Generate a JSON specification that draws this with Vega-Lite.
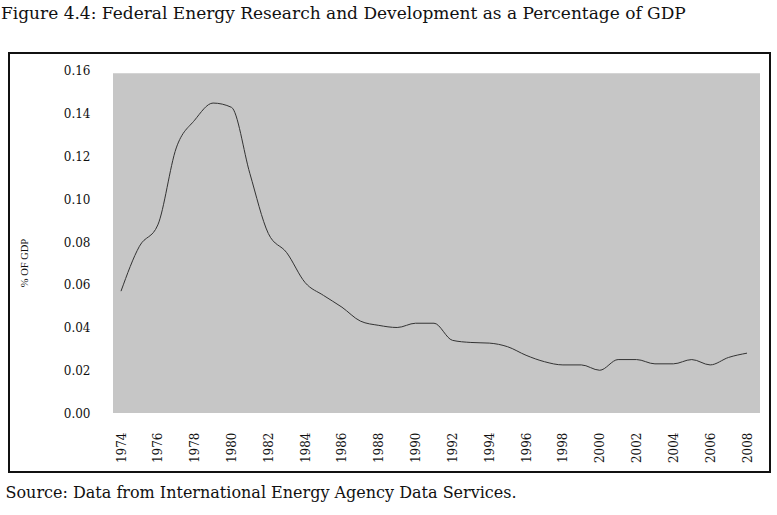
{
  "$schema": "https://vega.github.io/schema/vega-lite/v6.json",
  "width": 761,
  "height": 419,
  "autosize": {"type": "none"},
  "padding": {"left": 9, "top": 53, "right": 7, "bottom": 43},
  "background": "white",
  "title": {
    "text": "Figure 4.4: Federal Energy Research and Development as a Percentage of GDP",
    "anchor": "start",
    "dx": -4,
    "offset": 30,
    "font": "DejaVu Serif",
    "fontSize": 17,
    "fontWeight": "normal",
    "color": "#111"
  },
  "config": {
    "view": {"stroke": "#111", "strokeWidth": 2},
    "axis": {"grid": false, "labelFont": "DejaVu Serif", "titleFont": "DejaVu Serif", "labelColor": "#111", "titleColor": "#111"}
  },
  "datasets": {
    "panel": [{"x0": 1973.565, "x1": 2008.706, "y0": 0, "y1": 0.159}],
    "rd": [
      {"year": 1974, "pct": 0.057},
      {"year": 1975, "pct": 0.078},
      {"year": 1976, "pct": 0.088},
      {"year": 1977, "pct": 0.124},
      {"year": 1978, "pct": 0.137},
      {"year": 1979, "pct": 0.145},
      {"year": 1980, "pct": 0.143},
      {"year": 1981, "pct": 0.112},
      {"year": 1982, "pct": 0.084},
      {"year": 1983, "pct": 0.075},
      {"year": 1984, "pct": 0.061},
      {"year": 1985, "pct": 0.055},
      {"year": 1986, "pct": 0.0495},
      {"year": 1987, "pct": 0.043},
      {"year": 1988, "pct": 0.041},
      {"year": 1989, "pct": 0.040},
      {"year": 1990, "pct": 0.042},
      {"year": 1991, "pct": 0.042},
      {"year": 1992, "pct": 0.034},
      {"year": 1993, "pct": 0.033},
      {"year": 1994, "pct": 0.0327},
      {"year": 1995, "pct": 0.031},
      {"year": 1996, "pct": 0.027},
      {"year": 1997, "pct": 0.024},
      {"year": 1998, "pct": 0.0225},
      {"year": 1999, "pct": 0.0225},
      {"year": 2000, "pct": 0.020},
      {"year": 2001, "pct": 0.025},
      {"year": 2002, "pct": 0.025},
      {"year": 2003, "pct": 0.023},
      {"year": 2004, "pct": 0.023},
      {"year": 2005, "pct": 0.025},
      {"year": 2006, "pct": 0.0225},
      {"year": 2007, "pct": 0.026},
      {"year": 2008, "pct": 0.028}
    ]
  },
  "layer": [
    {
      "data": {"name": "panel"},
      "mark": {"type": "rect", "color": "#c6c6c6"},
      "encoding": {
        "x": {
          "field": "x0",
          "type": "quantitative",
          "scale": {"domain": [1967.916, 2009.249], "nice": false, "zero": false},
          "axis": {
            "orient": "bottom",
            "offset": -40,
            "values": [1974, 1976, 1978, 1980, 1982, 1984, 1986, 1988, 1990, 1992, 1994, 1996, 1998, 2000, 2002, 2004, 2006, 2008],
            "format": "d",
            "labelAngle": 270,
            "labelFontSize": 12,
            "labelPadding": 0,
            "ticks": false,
            "domain": false,
            "title": null
          }
        },
        "x2": {"field": "x1"},
        "y": {
          "field": "y0",
          "type": "quantitative",
          "scale": {"domain": [-0.0276, 0.16842], "nice": false, "zero": false},
          "axis": {
            "orient": "left",
            "offset": -81,
            "values": [0, 0.02, 0.04, 0.06, 0.08, 0.1, 0.12, 0.14, 0.16],
            "format": ".2f",
            "labelFontSize": 12,
            "labelPadding": 0,
            "ticks": false,
            "domain": false,
            "title": "% OF GDP",
            "titleFont": "Liberation Serif",
            "titleFontSize": 10.5,
            "titleFontWeight": "normal",
            "titlePadding": 34
          }
        },
        "y2": {"field": "y1"}
      }
    },
    {
      "data": {"name": "rd"},
      "mark": {"type": "line", "color": "#333", "strokeWidth": 1, "interpolate": "monotone"},
      "encoding": {
        "x": {
          "field": "year",
          "type": "quantitative",
          "axis": {
            "orient": "bottom",
            "labels": false,
            "ticks": false,
            "domain": false,
            "title": "Source: Data from International Energy Agency Data Services.",
            "titleAnchor": "start",
            "titleAlign": "left",
            "titleX": -4,
            "titleFont": "DejaVu Serif",
            "titleFontSize": 16,
            "titleFontWeight": "normal",
            "titlePadding": 12
          }
        },
        "y": {"field": "pct", "type": "quantitative"}
      }
    }
  ],
  "resolve": {"axis": {"x": "independent"}}
}
